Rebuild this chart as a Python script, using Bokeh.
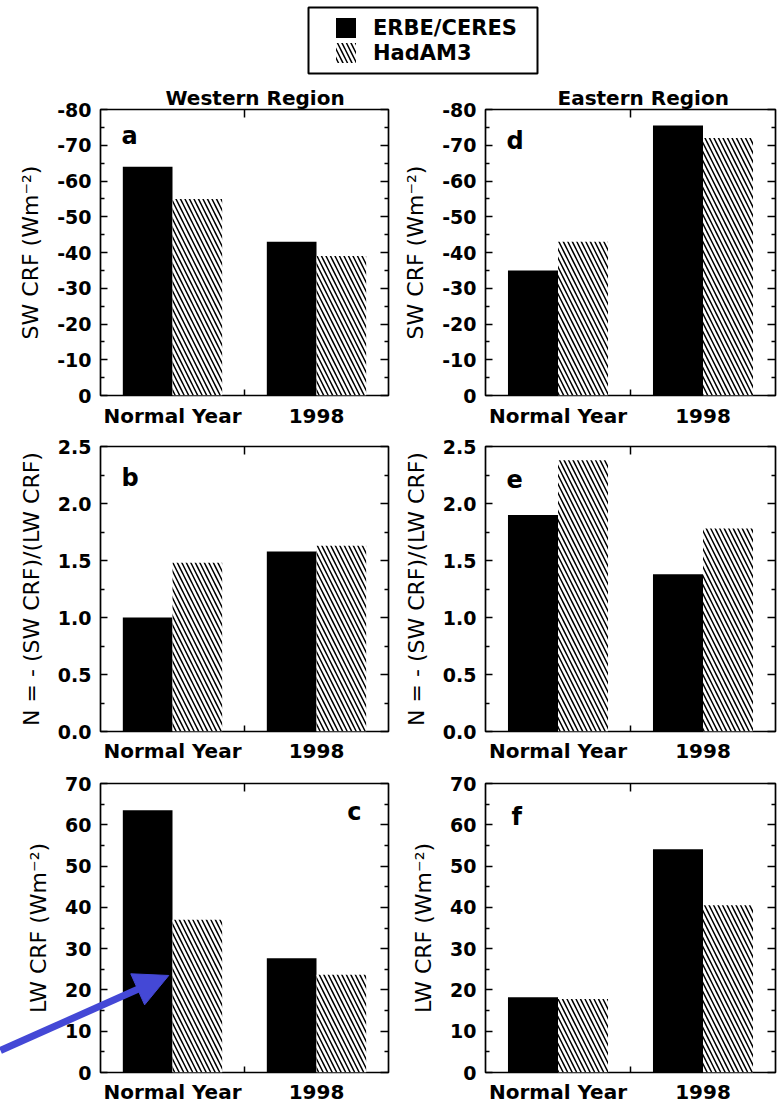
import numpy as np
from bokeh.plotting import figure
from bokeh.models import (Range1d, LinearAxis, FixedTicker, PrintfTickFormatter, Label,
                          Legend, LegendItem, BoxAnnotation)
from bokeh.layouts import column, row
from bokeh.embed import file_html
from bokeh.resources import INLINE

# ---------------- data ----------------
categories = ["Normal Year", "1998"]
series_names = ["ERBE/CERES", "HadAM3"]

# Western Region
west_sw_erbe = [-64.0, -43.0]
west_sw_had = [-55.0, -39.0]
west_n_erbe = [1.00, 1.58]
west_n_had = [1.48, 1.63]
west_lw_erbe = [63.5, 27.7]
west_lw_had = [37.0, 23.7]

# Eastern Region
east_sw_erbe = [-35.0, -75.5]
east_sw_had = [-43.0, -72.0]
east_n_erbe = [1.90, 1.38]
east_n_had = [2.38, 1.78]
east_lw_erbe = [18.2, 54.1]
east_lw_had = [17.8, 40.5]

sw_ticks = [0, -10, -20, -30, -40, -50, -60, -70, -80]
sw_minor = [-5, -15, -25, -35, -45, -55, -65, -75]
n_ticks = [0.0, 0.5, 1.0, 1.5, 2.0, 2.5]
n_minor = [0.25, 0.75, 1.25, 1.75, 2.25]
lw_ticks = [0, 10, 20, 30, 40, 50, 60, 70]
lw_minor = [5, 15, 25, 35, 45, 55, 65]

sw_label = "SW CRF (Wm\u207b\u00b2)"
n_label = "N = - (SW CRF)/(LW CRF)"
lw_label = "LW CRF (Wm\u207b\u00b2)"

# ---------------- style ----------------
FONT = "DejaVu Sans"
BAR_W = 0.345
HATCH = dict(hatch_pattern="\\", hatch_color="black", hatch_scale=9, hatch_weight=1.5)
ARROW_COLOR = "#4448d6"


def make_panel(width, height, mbl, mbr, mbt, mbb, yrange, yticks, yminor, fmt, ylabel,
               erbe, had, letter, lx, ly, lalign, title=None, title_dx=0, x_standoff=8):
    kw = {}
    if title:
        kw["title"] = title
    p = figure(width=width, height=height, output_backend="svg", toolbar_location=None,
               x_range=Range1d(0, 2), y_range=Range1d(*yrange),
               min_border_left=mbl, min_border_right=mbr,
               min_border_top=mbt, min_border_bottom=mbb,
               x_axis_type=None, y_axis_type=None, **kw)
    p.outline_line_color = "black"
    p.outline_line_width = 1.7
    p.background_fill_color = "white"
    p.border_fill_color = "white"
    if title:
        p.title.align = "left"
        p.title.offset = title_dx
        p.title.standoff = 0
        p.title.text_font = FONT
        p.title.text_font_style = "bold"
        p.title.text_font_size = "20px"
        p.title.text_color = "black"

    # bottom axis: category labels and one inner tick between the groups
    xb = LinearAxis(ticker=FixedTicker(ticks=[0.5, 1.5], minor_ticks=[1.0]),
                    major_label_overrides={0.5: categories[0], 1.5: categories[1]})
    xb.axis_line_color = None
    xb.major_tick_in = 0
    xb.major_tick_out = 0
    xb.minor_tick_in = 6
    xb.minor_tick_out = 0
    xb.minor_tick_line_width = 1.5
    xb.major_label_standoff = x_standoff
    xb.major_label_text_font = FONT
    xb.major_label_text_font_style = "bold"
    xb.major_label_text_font_size = "20px"
    xb.major_label_text_color = "black"
    p.add_layout(xb, "below")

    # top: only the inner tick between the groups (no labels)
    xa = LinearAxis(ticker=FixedTicker(ticks=[], minor_ticks=[1.0]))
    xa.axis_line_color = None
    xa.minor_tick_in = 8
    xa.minor_tick_out = 0
    xa.minor_tick_line_width = 1.5
    xa.major_label_standoff = 0
    p.add_layout(xa, "above")

    yl = LinearAxis(ticker=FixedTicker(ticks=yticks, minor_ticks=yminor),
                    formatter=PrintfTickFormatter(format=fmt), axis_label=ylabel)
    yl.axis_line_color = None
    yl.major_tick_in = 7
    yl.major_tick_out = 0
    yl.minor_tick_in = 4
    yl.minor_tick_out = 0
    yl.major_tick_line_width = 1.5
    yl.minor_tick_line_width = 1.5
    yl.major_label_standoff = 9
    yl.major_label_text_font = FONT
    yl.major_label_text_font_style = "bold"
    yl.major_label_text_font_size = "19px"
    yl.major_label_text_color = "black"
    yl.axis_label_standoff = 11
    yl.axis_label_text_font = FONT
    yl.axis_label_text_font_style = "normal"
    yl.axis_label_text_font_size = "22px"
    yl.axis_label_text_color = "black"
    p.add_layout(yl, "left")

    # right side: inner ticks only (as unlabelled minor ticks)
    for tks, ln in ((yticks, 8), (yminor, 4)):
        yr = LinearAxis(ticker=FixedTicker(ticks=[], minor_ticks=tks))
        yr.axis_line_color = None
        yr.minor_tick_in = ln
        yr.minor_tick_out = 0
        yr.minor_tick_line_width = 1.5
        yr.major_label_standoff = 0
        p.add_layout(yr, "right")

    xc = np.arange(len(categories)) + 0.5
    p.vbar(x=xc - BAR_W / 2, top=erbe, bottom=0, width=BAR_W,
           fill_color="black", line_color=None)
    p.vbar(x=xc + BAR_W / 2, top=had, bottom=0, width=BAR_W,
           fill_color="white", line_color=None, **HATCH)

    p.add_layout(Label(x=lx, y=ly, x_units="screen", y_units="screen", text=letter,
                       text_align=lalign, text_baseline="alphabetic",
                       text_font=FONT, text_font_style="bold", text_font_size="24px",
                       text_color="black"))
    return p


LW, RW = 393, 385
# row 1 (SW CRF)
pa = make_panel(LW, 352, 100, 5, 31, 31, (0, -80), sw_ticks, sw_minor, "%d", sw_label,
                west_sw_erbe, west_sw_had, "a", 21, 260, "left",
                title="Western Region", title_dx=65, x_standoff=8)
pd = make_panel(RW, 352, 92, 3, 31, 31, (0, -80), sw_ticks, sw_minor, "%d", sw_label,
                east_sw_erbe, east_sw_had, "d", 21, 255, "left",
                title="Eastern Region", title_dx=72, x_standoff=8)
# row 2 (N ratio)
pb = make_panel(LW, 335, 100, 5, 16, 30, (0, 2.5), n_ticks, n_minor, "%.1f", n_label,
                west_n_erbe, west_n_had, "b", 21, 254, "left", x_standoff=7)
pe = make_panel(RW, 335, 92, 3, 16, 30, (0, 2.5), n_ticks, n_minor, "%.1f", n_label,
                east_n_erbe, east_n_had, "e", 21, 253, "left", x_standoff=7)
# row 3 (LW CRF)
pc = make_panel(LW, 341, 100, 5, 18, 34, (0, 70), lw_ticks, lw_minor, "%d", lw_label,
                west_lw_erbe, west_lw_had, "c", 261, 261, "right", x_standoff=7)
pf = make_panel(RW, 341, 92, 3, 18, 34, (0, 70), lw_ticks, lw_minor, "%d", lw_label,
                east_lw_erbe, east_lw_had, "f", 26, 256, "left", x_standoff=7)

# ---- blue arrow annotation in panel c (drawn above the axes, not clipped) ----
px_x = 288 / 2.0        # pixels per x unit in panel c
px_y = 289 / 70.0       # pixels per y unit in panel c
tip = np.array([0.474, 23.5])          # data position of the arrow tip
tail_px = np.array([-168.3, -75.0])    # tail offset from tip, pixels (x right, y up)
head_len, head_w = 34.0, 34.0
u = -tail_px / np.hypot(*tail_px)
nrm = np.array([-u[1], u[0]])
to_data = np.array([1 / px_x, 1 / px_y])
base_mid = -head_len * u
tail = tip + tail_px * to_data
shaft_end = tip + (base_mid + 2 * u) * to_data
c1 = tip + (base_mid + 0.5 * head_w * nrm) * to_data
c2 = tip + (base_mid - 0.5 * head_w * nrm) * to_data
pc.segment(x0=[tail[0]], y0=[tail[1]], x1=[shaft_end[0]], y1=[shaft_end[1]],
           line_color=ARROW_COLOR, line_width=7, level="overlay")
pc.patch(x=[tip[0], c1[0], c2[0]], y=[tip[1], c1[1], c2[1]],
         fill_color=ARROW_COLOR, line_color=ARROW_COLOR, line_width=1, level="overlay")

# ---------------- legend strip ----------------
LEG_H = 78
leg = figure(width=LW + RW, height=LEG_H, output_backend="svg", toolbar_location=None,
             x_range=Range1d(0, LW + RW), y_range=Range1d(LEG_H, 0), min_border=0,
             x_axis_type=None, y_axis_type=None)
leg.outline_line_color = None
leg.background_fill_color = "white"
leg.border_fill_color = "white"
r1 = leg.vbar(x=[np.nan], top=[np.nan], width=1, fill_color="black", line_color=None)
r2 = leg.vbar(x=[np.nan], top=[np.nan], width=1, fill_color="white", line_color=None, **HATCH)
legend = Legend(items=[LegendItem(label=series_names[0], renderers=[r1]),
                       LegendItem(label=series_names[1], renderers=[r2])],
                location=(333, 13), padding=0, margin=0, spacing=0,
                border_line_color=None, background_fill_alpha=0,
                glyph_width=25, glyph_height=25, label_standoff=15,
                label_text_font=FONT, label_text_font_style="bold",
                label_text_font_size="21px", label_text_color="black")
leg.add_layout(legend)
leg.add_layout(BoxAnnotation(left=308, right=537, top=7, bottom=73,
                             fill_color=None, fill_alpha=0, line_color="black",
                             line_alpha=1.0, line_width=2))

layout = column(leg, row(pa, pd, spacing=0), row(pb, pe, spacing=0),
                row(pc, pf, spacing=0), spacing=0)

open("out.html", "w").write(file_html(layout, INLINE))
